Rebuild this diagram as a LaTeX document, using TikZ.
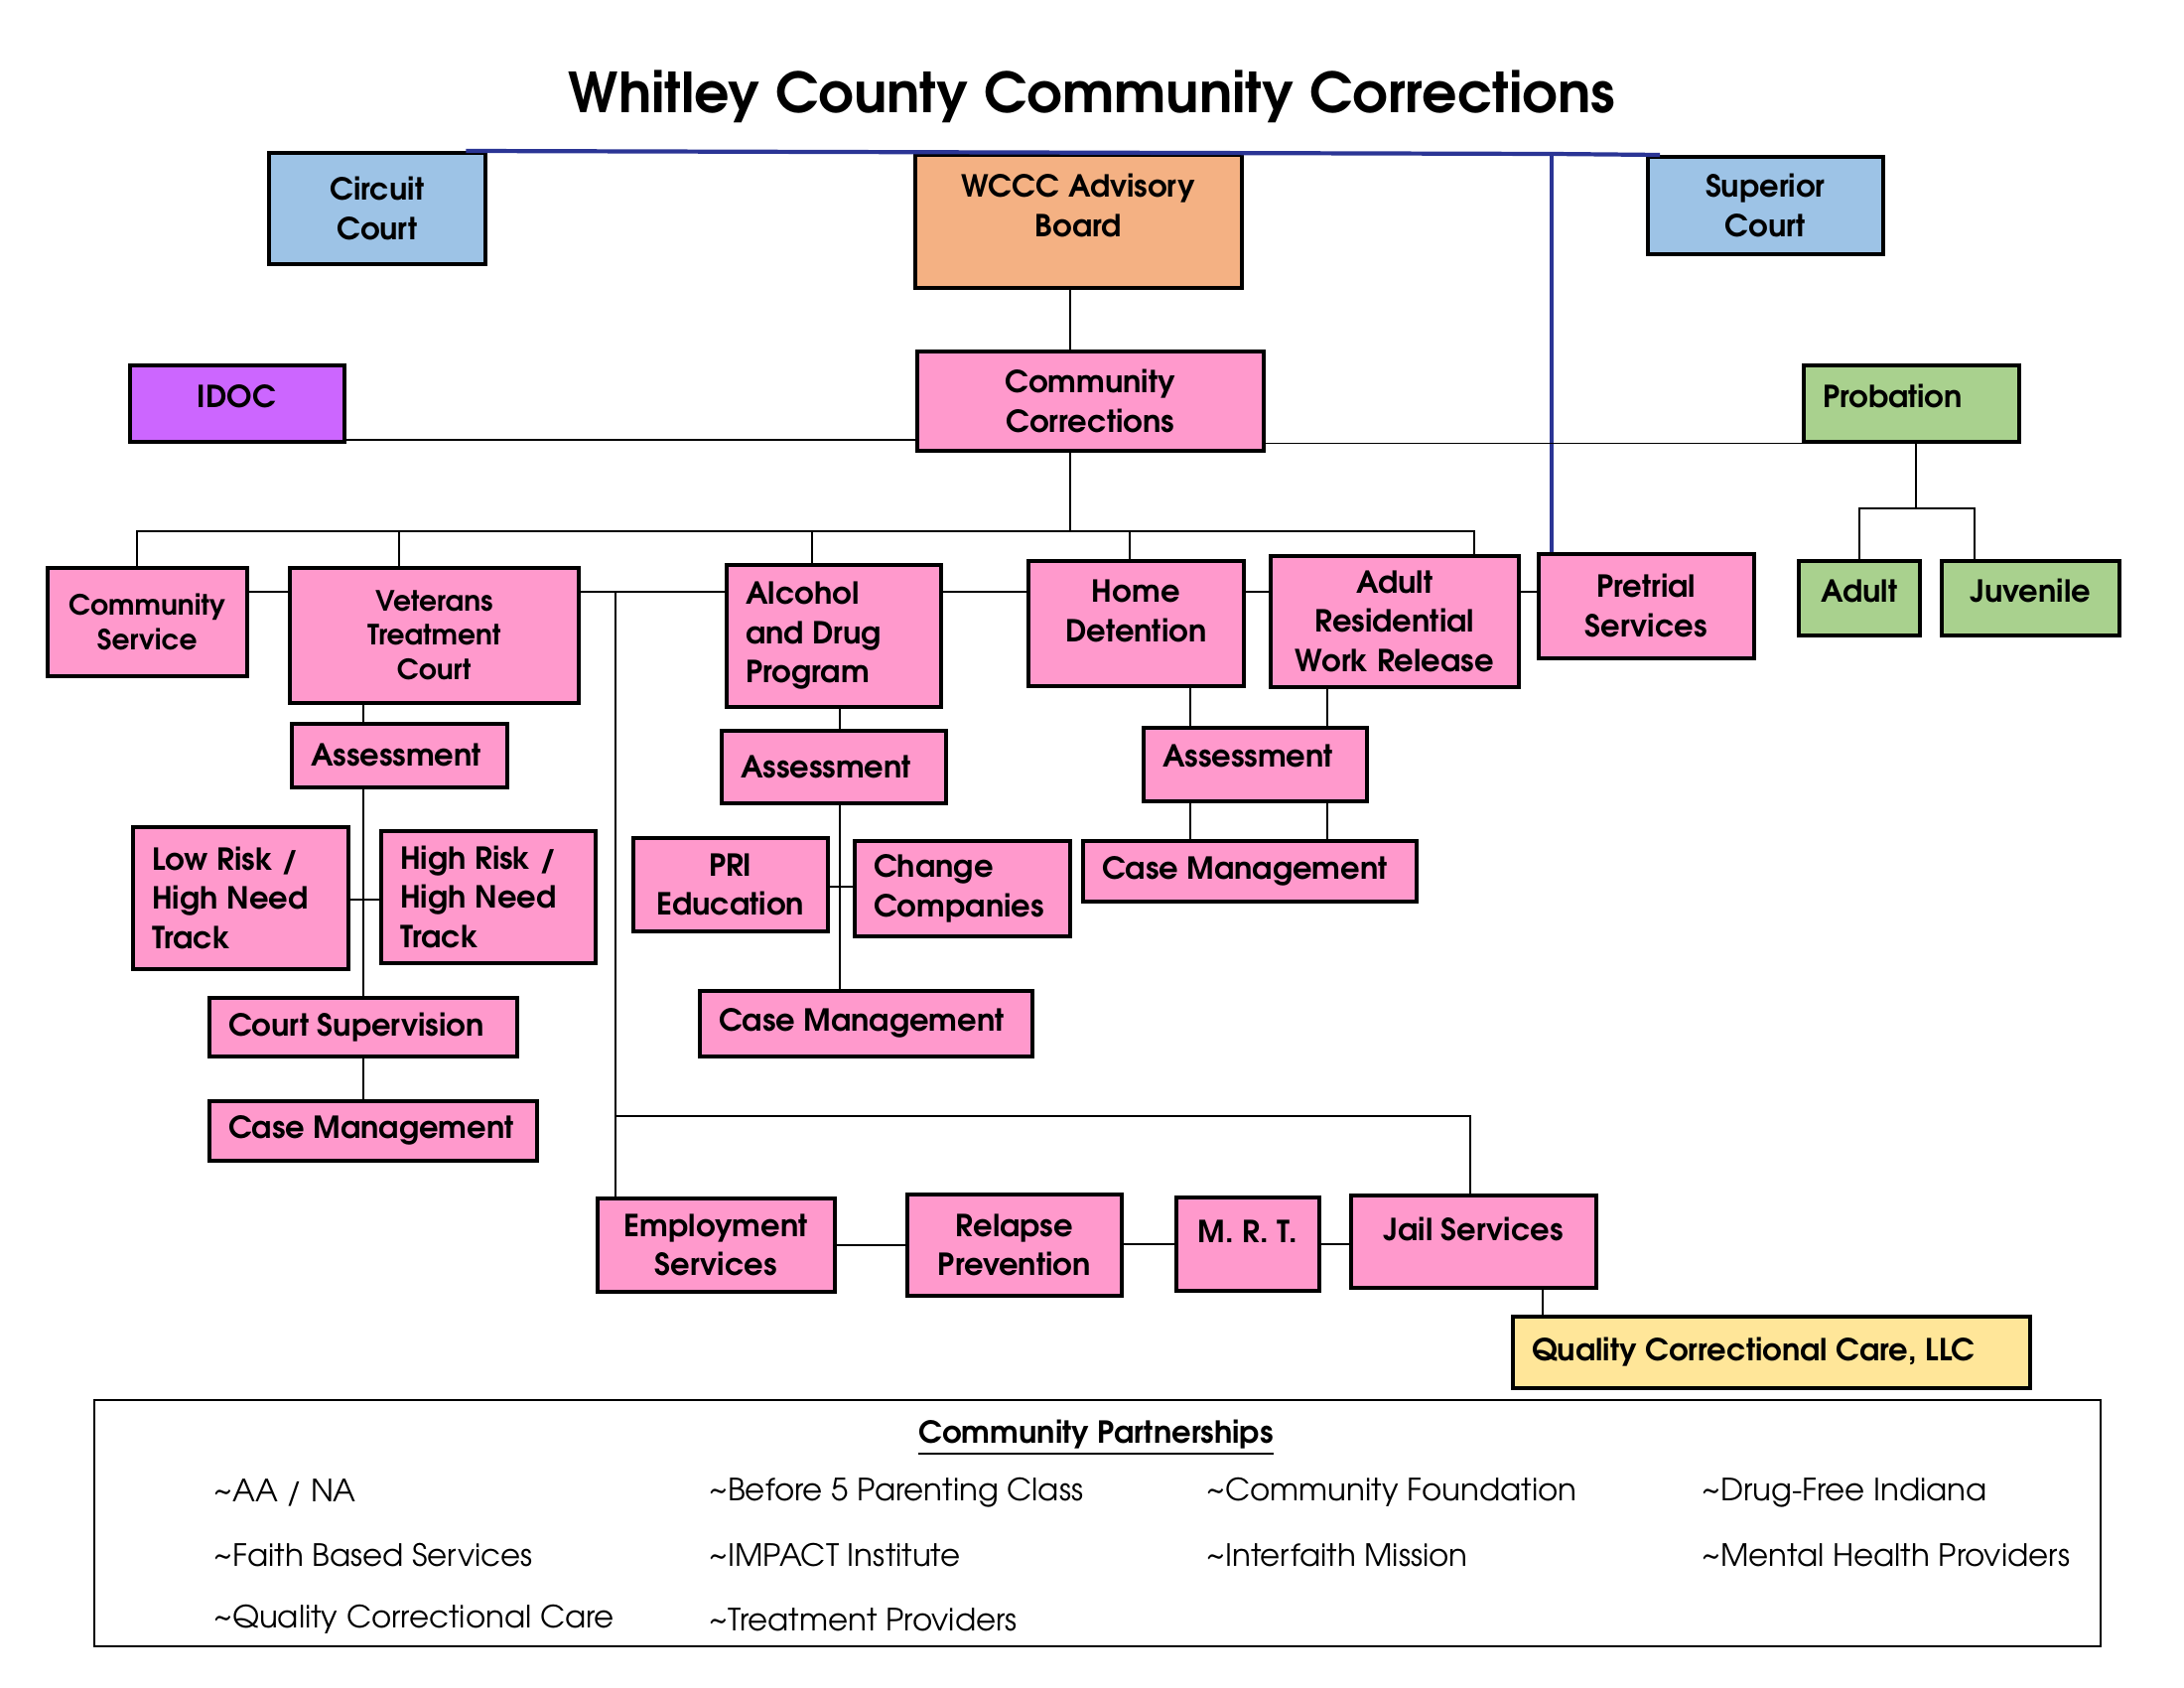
\documentclass[tikz,border=0pt]{standalone}
\usepackage{fontspec}
\setmainfont{TeX Gyre Adventor}
\definecolor{pinkbox}{HTML}{FF99CC}
\definecolor{courtblue}{HTML}{9DC3E6}
\definecolor{boardorange}{HTML}{F4B183}
\definecolor{idocpurple}{HTML}{CC66FF}
\definecolor{probgreen}{HTML}{A9D18E}
\definecolor{qccyellow}{HTML}{FFE699}
\definecolor{navyline}{HTML}{2B3595}
\begin{document}
\begin{tikzpicture}[x=0.01cm, y=-0.01cm,
  box/.style 2 args={draw, line width=1pt, fill=pinkbox, anchor=north west, align=center,
    font=\bfseries\fontsize{8.7}{11.3}\selectfont, inner ysep=1pt,
    minimum width=#1*0.01cm, minimum height=#2*0.01cm},
  lbox/.style 2 args={box={#1}{#2}, align=flush left, inner xsep=5.5pt, text width=#1*0.01cm-11pt},
  small/.style={font=\bfseries\fontsize{8}{9.8}\selectfont},
  link/.style={line width=0.5pt},
  judge/.style={draw=navyline, line width=1.2pt},
  partner/.style={anchor=west, font=\fontsize{8.8}{11}\selectfont}]
  \useasboundingbox (0,0) rectangle (2200,1700);
  \node[font=\bfseries\fontsize{15.8}{19}\selectfont] (title) at (1100,97) {Whitley County Community Corrections};

  \node[box={218}{112}, fill=courtblue] (circuit) at (269,152) {Circuit\\Court};
  \node[box={329}{134}, fill=boardorange, text depth=9pt] (board) at (920,154) {WCCC Advisory\\Board};
  \node[box={237}{98}, fill=courtblue] (superior) at (1658,156) {Superior\\Court};
  \node[box={216}{77}, fill=idocpurple, text depth=4pt] (idoc) at (129,366) {IDOC};
  \node[box={349}{100}] (comcor) at (922,352) {Community\\Corrections};
  \node[lbox={217}{77}, fill=probgreen, text depth=4pt] (probation) at (1815,366) {Probation};

  \node[box={201}{109}, small] (commserv) at (46,570) {Community\\Service};
  \node[box={291}{136}, small] (vtc) at (290,570) {Veterans\\Treatment\\Court};
  \node[lbox={216}{143}] (adp) at (730,567) {Alcohol\\and Drug\\Program};
  \node[box={217}{126}, text depth=7pt] (homedet) at (1034,563) {Home\\Detention};
  \node[box={250}{132}] (arwr) at (1278,558) {Adult\\Residential\\Work Release};
  \node[box={217}{105}] (pretrial) at (1548,556) {Pretrial\\Services};
  \node[box={122}{75}, fill=probgreen, text depth=4pt] (adult) at (1810,563) {Adult};
  \node[box={179}{75}, fill=probgreen, text depth=4pt] (juvenile) at (1954,563) {Juvenile};

  \node[lbox={217}{64}] (assessA) at (292,727) {Assessment};
  \node[lbox={226}{73}] (assessB) at (725,734) {Assessment};
  \node[lbox={225}{74}, text depth=5pt] (assessC) at (1150,731) {Assessment};

  \node[lbox={217}{143}] (lowrisk) at (132,831) {Low Risk /\\High Need\\Track};
  \node[lbox={216}{133}] (highrisk) at (382,835) {High Risk /\\High Need\\Track};
  \node[box={196}{94}] (pri) at (636,842) {PRI\\Education};
  \node[lbox={217}{96}] (change) at (859,845) {Change\\Companies};
  \node[lbox={336}{61}] (caseC) at (1089,845) {Case Management};
  \node[lbox={310}{59}] (courtsup) at (209,1003) {Court Supervision};
  \node[lbox={330}{60}] (caseA) at (209,1107) {Case Management};
  \node[lbox={335}{66}] (caseB) at (703,996) {Case Management};

  \node[box={239}{94}] (employ) at (600,1205) {Employment\\Services};
  \node[box={216}{102}] (relapse) at (912,1201) {Relapse\\Prevention};
  \node[box={144}{94}, text depth=7pt] (mrt) at (1183,1204) {M. R. T.};
  \node[box={247}{93}, text depth=7pt] (jail) at (1359,1202) {Jail Services};
  \node[lbox={521}{72}, fill=qccyellow] (qcc) at (1522,1324) {Quality Correctional Care, LLC};

  \coordinate (bluejoin) at (1563,155);
  \coordinate (trunk) at (1078,535);
  \coordinate (busL) at (138,535);
  \coordinate (busR) at (1485,535);
  \coordinate (dropVTC) at (402,535);
  \coordinate (dropADP) at (818,535);
  \coordinate (dropHD) at (1138,535);
  \coordinate (chain) at (620,596);
  \coordinate (lowbus) at (620,1124);
  \coordinate (lowbusR) at (1481,1124);
  \coordinate (vtcx) at (366,906);
  \coordinate (adpx) at (846,893);
  \coordinate (hdx) at (1199,700);
  \coordinate (arx) at (1337,700);
  \coordinate (probjoin) at (1930,512);
  \coordinate (juvx) at (1989,512);

  \draw[judge] ([xshift=-6pt]circuit.north east) -- (bluejoin) -- ([xshift=4pt]superior.north west);
  \draw[judge] (bluejoin) -- (bluejoin |- pretrial.north);
  \draw[link] (board.south -| trunk) -- (comcor.north -| trunk);
  \draw[link] ([yshift=1pt]idoc.south east) -- ([yshift=1pt]idoc.south east -| comcor.west);
  \draw[link] (probation.south west -| comcor.east) -- (probation.south west);
  \draw[link] (probation.south -| probjoin) -- (probjoin);
  \draw[link] (adult.north) |- (juvx) -- (juvx |- juvenile.north);

  \draw[link] (comcor.south -| trunk) -- (trunk);
  \draw[link] (busL |- commserv.north) -- (busL) -- (busR) -- (busR |- arwr.north);
  \draw[link] (dropVTC) -- (dropVTC |- vtc.north);
  \draw[link] (dropADP) -- (dropADP |- adp.north);
  \draw[link] (dropHD) -- (dropHD |- homedet.north);

  \draw[link] (commserv.east |- chain) -- (vtc.west |- chain);
  \draw[link] (vtc.east |- chain) -- (adp.west |- chain);
  \draw[link] (adp.east |- chain) -- (homedet.west |- chain);
  \draw[link] (homedet.east |- chain) -- (arwr.west |- chain);
  \draw[link] (arwr.east |- chain) -- (pretrial.west |- chain);
  \draw[link] (chain) -- (chain |- employ.north);
  \draw[link] (lowbus) -- (lowbusR) -- (lowbusR |- jail.north);

  \draw[link] (vtc.south -| vtcx) -- (assessA.north -| vtcx);
  \draw[link] (assessA.south -| vtcx) -- (courtsup.north -| vtcx);
  \draw[link] (lowrisk.east |- vtcx) -- (highrisk.west |- vtcx);
  \draw[link] (courtsup.south -| vtcx) -- (caseA.north -| vtcx);

  \draw[link] (adp.south -| adpx) -- (assessB.north -| adpx);
  \draw[link] (assessB.south -| adpx) -- (caseB.north -| adpx);
  \draw[link] (pri.east |- adpx) -- (change.west |- adpx);

  \draw[link] (homedet.south -| hdx) -- (assessC.north -| hdx);
  \draw[link] (arwr.south -| arx) -- (assessC.north -| arx);
  \draw[link] (assessC.south -| hdx) -- (caseC.north -| hdx);
  \draw[link] (assessC.south -| arx) -- (caseC.north -| arx);

  \draw[link] (employ.east |- relapse.west) -- (relapse.west);
  \draw[link] (relapse.east |- mrt.west) -- (mrt.west);
  \draw[link] (mrt.east) -- (mrt.east -| jail.west);
  \draw[link] ([xshift=9pt]qcc.north west) -- ([xshift=9pt]qcc.north west |- jail.south);

  \node[draw, line width=0.6pt, anchor=north west, minimum width=20.2cm, minimum height=2.48cm] (partners) at (94,1409) {};
  \node[font=\bfseries\fontsize{8.7}{11}\selectfont] (ptitle) at (1104,1448) {\underline{Community Partnerships}};
  \node[partner] (aa) at (203,1503) {\textasciitilde AA / NA};
  \node[partner] (before) at (702,1503) {\textasciitilde Before 5 Parenting Class};
  \node[partner] (foundation) at (1203,1503) {\textasciitilde Community Foundation};
  \node[partner] (drugfree) at (1702,1503) {\textasciitilde Drug-Free Indiana};
  \node[partner] (faith) at (203,1566) {\textasciitilde Faith Based Services};
  \node[partner] (impact) at (702,1566) {\textasciitilde IMPACT Institute};
  \node[partner] (mission) at (1203,1566) {\textasciitilde Interfaith Mission};
  \node[partner] (mental) at (1702,1566) {\textasciitilde Mental Health Providers};
  \node[partner] (quality) at (203,1631) {\textasciitilde Quality Correctional Care};
  \node[partner] (treatment) at (702,1631) {\textasciitilde Treatment Providers};
\end{tikzpicture}
\end{document}
